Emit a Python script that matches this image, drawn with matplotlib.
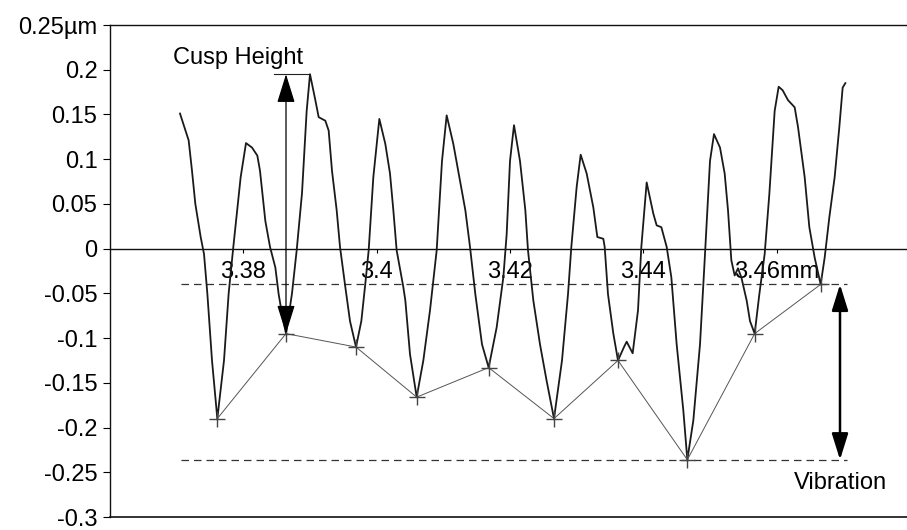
import matplotlib.pyplot as plt
from matplotlib.ticker import FixedLocator, FixedFormatter

plt.rcParams['font.family'] = ['Liberation Sans', 'DejaVu Sans']

# measured surface profile across the feed marks (x in mm, height in um)
profile_x = [3.3705, 3.3718, 3.3723, 3.3728, 3.3736, 3.3741, 3.3746, 3.3753, 3.3761, 3.3771,
             3.3778, 3.3785, 3.3796, 3.3804, 3.3813, 3.3821, 3.3825, 3.3833, 3.3840, 3.3848,
             3.3853, 3.3858, 3.3864, 3.3873, 3.3880, 3.3888, 3.3895, 3.3900, 3.3908, 3.3913,
             3.3923, 3.3928, 3.3933, 3.3940, 3.3945, 3.3953, 3.3960, 3.3969, 3.3977, 3.3983,
             3.3988, 3.3995, 3.4004, 3.4013, 3.4020, 3.4025, 3.4030, 3.4040, 3.4043, 3.4050,
             3.4060, 3.4070, 3.4080, 3.4090, 3.4098, 3.4105, 3.4115, 3.4125, 3.4133, 3.4140,
             3.4148, 3.4158, 3.4168, 3.4180, 3.4190, 3.4195, 3.4200, 3.4206, 3.4215, 3.4223,
             3.4227, 3.4235, 3.4245, 3.4255, 3.4266, 3.4278, 3.4287, 3.4292, 3.4300, 3.4306,
             3.4315, 3.4325, 3.4331, 3.4340, 3.4342, 3.4347, 3.4355, 3.4362, 3.4371, 3.4375,
             3.4384, 3.4392, 3.4397, 3.4405, 3.4415, 3.4420, 3.4427, 3.4435, 3.4442, 3.4450,
             3.4460, 3.4466, 3.4475, 3.4485, 3.4492, 3.4500, 3.4506, 3.4515, 3.4522, 3.4527,
             3.4532, 3.4537, 3.4542, 3.4547, 3.4555, 3.4560, 3.4567, 3.4574, 3.4582, 3.4589,
             3.4597, 3.4603, 3.4609, 3.4617, 3.4627, 3.4632, 3.4642, 3.4649, 3.4657, 3.4666,
             3.4672, 3.4679, 3.4687, 3.4694, 3.4699, 3.4703]
profile_y = [0.151, 0.121, 0.087, 0.050, 0.013, -0.006, -0.050, -0.125, -0.190, -0.125,
             -0.050, 0.002, 0.080, 0.118, 0.113, 0.104, 0.087, 0.031, 0.002, -0.021,
             -0.051, -0.073, -0.095, -0.050, -0.002, 0.062, 0.154, 0.195, 0.166, 0.147,
             0.143, 0.132, 0.087, 0.043, 0.002, -0.043, -0.081, -0.110, -0.081, -0.039,
             -0.002, 0.080, 0.145, 0.117, 0.084, 0.043, -0.002, -0.043, -0.058, -0.118,
             -0.166, -0.125, -0.069, -0.002, 0.098, 0.149, 0.117, 0.076, 0.043, 0.002,
             -0.051, -0.107, -0.133, -0.088, -0.032, 0.016, 0.098, 0.138, 0.098, 0.043,
             -0.002, -0.058, -0.107, -0.148, -0.190, -0.125, -0.051, 0.002, 0.069, 0.105,
             0.084, 0.046, 0.013, 0.011, 0.002, -0.051, -0.095, -0.125, -0.110, -0.104,
             -0.117, -0.069, 0.002, 0.074, 0.039, 0.026, 0.024, 0.002, -0.032, -0.107,
             -0.181, -0.236, -0.192, -0.107, -0.013, 0.098, 0.128, 0.113, 0.084, 0.043,
             -0.013, -0.030, -0.022, -0.032, -0.058, -0.081, -0.095, -0.051, -0.006, 0.061,
             0.154, 0.181, 0.177, 0.166, 0.158, 0.136, 0.080, 0.024, -0.010, -0.040,
             -0.010, 0.035, 0.080, 0.136, 0.180, 0.185]

# positions (in the profile) of the cusp bottoms
valley_idx = [8, 22, 37, 50, 62, 74, 87, 101, 116, 129]
# cusp used for the "Cusp Height" callout: bottom and following peak
cusp_bottom_idx = 22
cusp_peak_idx = 27

x_ticks = [3.38, 3.40, 3.42, 3.44, 3.46]
x_tick_labels = ['3.38', '3.4', '3.42', '3.44', '3.46mm']
y_ticks = [-0.30, -0.25, -0.20, -0.15, -0.10, -0.05, 0.0, 0.05, 0.10, 0.15, 0.20, 0.25]
y_tick_labels = ['-0.3', '-0.25', '-0.2', '-0.15', '-0.1', '-0.05', '0',
                 '0.05', '0.1', '0.15', '0.2', '0.25\u00b5m']

fig = plt.figure(figsize=(9.07, 5.30), dpi=100)
ax = fig.add_axes([110 / 907, 13 / 530, 800 / 907, 492 / 530])
ax.set_xlim(3.36, 3.48)
ax.set_ylim(-0.30, 0.25)

# frame: left and top spines, x axis sits on y = 0, closing line at the bottom
ax.spines['right'].set_visible(False)
ax.spines['bottom'].set_position(('data', 0))
for s in ['left', 'top', 'bottom']:
    ax.spines[s].set_linewidth(1.0)
    ax.spines[s].set_color('#111111')
ax.axhline(-0.30, color='#111111', lw=1.2, clip_on=False)

ax.xaxis.set_major_locator(FixedLocator(x_ticks))
ax.xaxis.set_major_formatter(FixedFormatter(x_tick_labels))
ax.yaxis.set_major_locator(FixedLocator(y_ticks))
ax.yaxis.set_major_formatter(FixedFormatter(y_tick_labels))
ax.tick_params(axis='x', direction='out', length=3, width=0.8, pad=6,
               labelsize=17, top=False)
ax.tick_params(axis='y', direction='out', length=5, width=0.8, pad=4,
               labelsize=17)

# profile curve
ax.plot(profile_x, profile_y, color='#1a1a1a', lw=1.3, zorder=3)

# cusp bottoms joined up
vx = [profile_x[i] for i in valley_idx]
vy = [profile_y[i] for i in valley_idx]
ax.plot(vx, vy, color='#555555', lw=0.7, marker='+', ms=12, mew=1.0,
        mec='#444444', zorder=4)

# dashed envelope of the cusp bottoms
x0, x1 = 3.3706, 3.4706
for level in (max(vy), min(vy)):
    ax.plot([x0, x1], [level, level], color='#333333', lw=0.9,
            ls=(0, (6, 4)), zorder=2)

# vibration arrow between the two envelope lines
xv = 3.4695
ax.annotate('', xy=(xv, min(vy)), xytext=(xv, max(vy)),
            arrowprops=dict(arrowstyle='<|-|>,head_length=0.8,head_width=0.25',
                            mutation_scale=20, color='black', lw=1.8,
                            shrinkA=0, shrinkB=0), zorder=5)
ax.text(xv, -0.262, 'Vibration', ha='center', va='center', fontsize=17)

# cusp height arrow
xc = profile_x[cusp_bottom_idx]
ytop = profile_y[cusp_peak_idx]
ax.annotate('', xy=(xc, ytop), xytext=(xc, profile_y[cusp_bottom_idx]),
            arrowprops=dict(arrowstyle='<|-|>,head_length=0.9,head_width=0.28',
                            mutation_scale=20, color='black', lw=0.9,
                            shrinkA=0, shrinkB=0), zorder=5)
ax.plot([3.3846, profile_x[cusp_peak_idx] - 0.0001], [ytop, ytop],
        color='#222222', lw=0.8, zorder=2)
ax.text(3.3695, 0.2135, 'Cusp Height', ha='left', va='center', fontsize=17)

fig.savefig('out.png', dpi=100)
